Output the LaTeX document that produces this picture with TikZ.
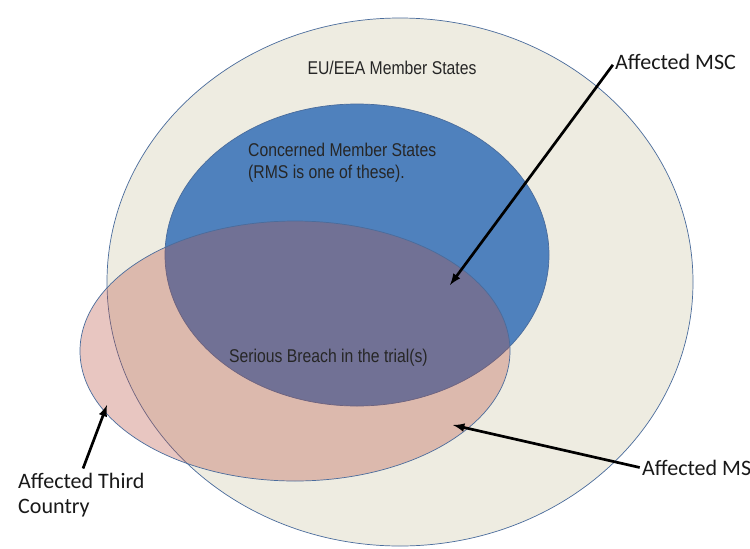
\documentclass[tikz,border=0pt]{standalone}
\usepackage{fontspec}
\setmainfont{Carlito}
\newfontfamily\narrowfont{Liberation Sans}[FakeStretch=0.85]
\definecolor{beige}{RGB}{238,236,225}
\definecolor{rimblue}{RGB}{74,108,156}
\definecolor{msblue}{RGB}{79,129,189}
\definecolor{breach}{RGB}{185,80,65}
\begin{document}
\begin{tikzpicture}[
    x=0.03cm, y=-0.03cm,
    rim/.style={draw=rimblue, line width=0.6pt},
    setname/.style={font=\narrowfont\fontsize{15.8}{18.8}\selectfont, inner sep=0pt, align=left, text=black!85},
    tag/.style={font=\fontsize{18.8}{21.3}\selectfont, inner sep=0pt, align=left, text=black!90},
    pointer/.style={-latex, line width=2.3pt}
]
\useasboundingbox (0,0) rectangle (750,548);
\fill[white] (0,0) rectangle (750,548);
% the three sets
\draw[rim, fill=beige] (400,282) ellipse [x radius=293, y radius=264];
\draw[rim, fill=msblue] (357,255) ellipse [x radius=192, y radius=151];
\draw[rim, fill=breach, fill opacity=0.32] (295,351) ellipse [x radius=215, y radius=130];
% set names
\node[setname] (eu) at (392,68) {EU/EEA Member States};
\node[setname, anchor=west] (cms) at (248,163) {Concerned Member States\\(RMS is one of these).};
\node[setname, anchor=west] (breachname) at (229,358) {Serious Breach in the trial(s)};
% outside labels
\node[tag, anchor=west] (msc) at (615,62) {Affected MSC};
\node[tag, anchor=west] (ms) at (642,468) {Affected MS};
\node[tag, anchor=west] (third) at (18,495) {Affected Third\\Country};
\coordinate (mschit) at (450,285);
\coordinate (mshit) at (453,425);
\coordinate (thirdhit) at (107,405);
\draw[pointer, shorten <=3pt] (msc.west) -- (mschit);
\draw[pointer, shorten <=2pt] (ms.west) -- (mshit);
\draw[pointer, shorten <=4pt] (third.north) -- (thirdhit);
\end{tikzpicture}
\end{document}
